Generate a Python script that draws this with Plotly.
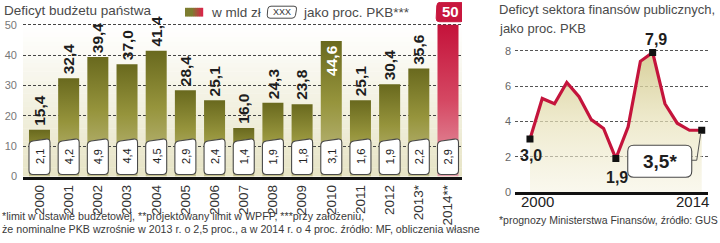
import math
import plotly.graph_objects as go

# ---------------- data ----------------
years = ["2000", "2001", "2002", "2003", "2004", "2005", "2006", "2007",
         "2008", "2009", "2010", "2011", "2012", "2013*", "2014**"]
deficit_bn = [15.4, 32.4, 39.4, 37.0, 41.4, 28.4, 25.1, 16.0,
              24.3, 23.8, 44.6, 25.1, 30.4, 35.6, 50]
deficit_pct_gdp = [2.1, 4.2, 4.9, 4.4, 4.5, 2.9, 2.4, 1.4,
                   1.9, 1.8, 3.1, 1.6, 1.9, 2.2, 2.9]
left_yticks = [0, 10, 20, 30, 40, 50]

sector_years = [2000, 2001, 2002, 2003, 2004, 2005, 2006, 2007,
                2008, 2009, 2010, 2011, 2012, 2013, 2014]
sector_deficit = [3.0, 5.3, 5.0, 6.2, 5.4, 4.1, 3.6, 1.9,
                  3.7, 7.4, 7.9, 5.0, 3.9, 3.5, 3.5]
sector_marked = [2000, 2007, 2010, 2014]
sector_label_text = {2000: "3,0", 2007: "1,9", 2010: "7,9", 2014: "3,5*"}
right_yticks = [0, 2, 4, 6, 8]
right_xlabels = ["2000", "2014"]

# ---------------- helpers ----------------
W, H = 720, 243
SANS = "Liberation Sans, Arial, sans-serif"


def px(x):
    return x / W


def py(y):
    return 1 - y / H


def rounded_path(pts, r):
    n = len(pts)

    def toward(a, b, d):
        dx, dy = b[0] - a[0], b[1] - a[1]
        L = math.hypot(dx, dy)
        t = min(d, L / 2) / L
        return (a[0] + dx * t, a[1] + dy * t)

    segs = []
    for i in range(n):
        p = pts[i]
        a = toward(p, pts[i - 1], r)
        b = toward(p, pts[(i + 1) % n], r)
        segs.append((a, p, b))
    a, p, b = segs[0]
    d = f"M{a[0]:.2f},{a[1]:.2f} Q{p[0]:.2f},{p[1]:.2f} {b[0]:.2f},{b[1]:.2f}"
    for a, p, b in segs[1:]:
        d += f" L{a[0]:.2f},{a[1]:.2f} Q{p[0]:.2f},{p[1]:.2f} {b[0]:.2f},{b[1]:.2f}"
    return d + " Z"


def pix_shape(path, xref, yref, xa, ya, fill, lc, lw):
    return dict(type="path", xref=xref, yref=yref, xsizemode="pixel",
                ysizemode="pixel", xanchor=xa, yanchor=ya, path=path,
                fillcolor=fill, line=dict(color=lc, width=lw), layer="above")


def lerp(c0, c1, t):
    return "rgb(%d,%d,%d)" % tuple(round(c0[k] + (c1[k] - c0[k]) * t) for k in range(3))


def txt(x, y, text, size, color, xanchor="left", weight="normal"):
    return dict(x=px(x), y=py(y), xref="paper", yref="paper", text=text,
                showarrow=False, xanchor=xanchor, yanchor="middle",
                font=dict(family=SANS, size=size, color=color, weight=weight))


OLIVE_SCALE = [[0, "#c4c08c"], [0.55, "#96943c"], [1, "#69691e"]]
RED_SCALE = [[0, "#e6a0ab"], [0.5, "#d54863"], [1, "#c4123a"]]

fig = go.Figure()
shapes = []
ann = []

# ---------------- left chart ----------------
BAR_W = 0.72
n = len(deficit_bn)
for i, v in enumerate(deficit_bn):
    cs = RED_SCALE if i == n - 1 else OLIVE_SCALE
    fig.add_trace(go.Scatter(
        x=[i - BAR_W / 2, i + BAR_W / 2, i + BAR_W / 2, i - BAR_W / 2],
        y=[0, 0, v, v], fill="toself", mode="lines", line=dict(width=0),
        fillgradient=dict(type="vertical", colorscale=cs),
        hoverinfo="skip", showlegend=False, xaxis="x", yaxis="y"))

# plot background gradient (below gridlines)
NB = 40
for k in range(NB):
    t = min(1.0, (k / (NB - 1)) * 1.15)
    shapes.append(dict(type="rect", xref="x domain", yref="y domain",
                       x0=0, x1=1, y0=k / NB, y1=(k + 1) / NB + 0.002,
                       fillcolor=lerp((231, 228, 198), (255, 255, 255), t),
                       line=dict(width=0), layer="below"))

for i, (v, p) in enumerate(zip(deficit_bn, deficit_pct_gdp)):
    # PKB box
    shapes.append(pix_shape(rounded_path([(-10.5, 2), (10.5, 2), (10.5, 38), (-10.5, 35)], 4),
                            "x", "y", i, 0, "white", "#4a4a4a", 1.1))
    ann.append(dict(x=i, y=0, xref="x", yref="y", yshift=20, text=f"{p:.1f}".replace(".", ","),
                    textangle=-90, showarrow=False, xanchor="center", yanchor="middle",
                    font=dict(family=SANS, size=11, color="#222")))
    label = f"{v:.1f}".replace(".", ",")
    if i == n - 1:
        shapes.append(pix_shape(rounded_path([(-12, 3), (16, 3), (17, 22.5), (-11, 22.5)], 3.5),
                                "x", "y", i, v, "#c8173e", "#c8173e", 1))
        ann.append(dict(x=i, y=v, xref="x", yref="y", xshift=2.5, yshift=13, text=f"{v:g}",
                        showarrow=False, xanchor="center", yanchor="middle",
                        font=dict(family=SANS, size=15, color="white", weight="bold")))
    elif v > 43:
        ann.append(dict(x=i, y=v, xref="x", yref="y", yshift=-2, text=label, textangle=-90,
                        showarrow=False, xanchor="center", yanchor="top",
                        font=dict(family=SANS, size=15.5, color="white", weight="bold")))
    else:
        ann.append(dict(x=i, y=v, xref="x", yref="y", yshift=2, text=label, textangle=-90,
                        showarrow=False, xanchor="center", yanchor="bottom",
                        font=dict(family=SANS, size=15.5, color="#1e1e1e", weight="bold")))

# title & legend
ann.append(txt(2, 11, "Deficyt budżetu państwa", 13.5, "#4a4a4a"))
sw0, sw1 = (125, 125, 48), (214, 40, 72)
for k in range(9):
    t = max(0.0, (k - 3) / 5)
    shapes.append(dict(type="rect", xref="paper", yref="paper",
                       x0=px(185 + 2 * k), x1=px(187.2 + 2 * k), y0=py(17), y1=py(8),
                       fillcolor=lerp(sw0, sw1, min(t, 1)), line=dict(width=0), layer="above"))
ann.append(txt(209, 13, "w mld zł", 13.5, "#4a4a4a"))
shapes.append(pix_shape(rounded_path([(-15, -6), (13, -6), (15, 6), (-14, 6)], 3),
                        "paper", "paper", px(282), py(12.5), "white", "#4a4a4a", 1))
ann.append(txt(282, 12.5, "XXX", 9, "#333", xanchor="center"))
ann.append(txt(301, 13, "jako proc. PKB***", 13.5, "#4a4a4a"))

# left footnote
ann.append(txt(0, 221.5, "*limit w ustawie budżetowej, **projektowany limit w WPFP, ***przy założeniu,",
               10.7, "#3a3a3a"))
ann.append(txt(0, 235, "że nominalne PKB wzrośnie w 2013 r. o 2,5 proc., a w 2014 r. o 4 proc. "
                       "źródło: MF, obliczenia własne", 10.7, "#3a3a3a"))

# ---------------- right chart ----------------
fig.add_trace(go.Scatter(
    x=sector_years, y=sector_deficit, mode="lines", fill="tozeroy",
    line=dict(width=0), fillgradient=dict(type="vertical", start=0, stop=8,
                                          colorscale=[[0, "rgba(246,243,226,0.55)"],
                                                      [0.5, "rgba(232,226,186,0.7)"],
                                                      [1, "rgba(208,198,135,0.85)"]]),
    hoverinfo="skip", showlegend=False, xaxis="x2", yaxis="y2"))
fig.add_trace(go.Scatter(
    x=sector_years, y=sector_deficit, mode="lines",
    line=dict(color="#c4143c", width=3.2), hoverinfo="skip", showlegend=False,
    xaxis="x2", yaxis="y2"))
mk_y = [sector_deficit[sector_years.index(yr)] for yr in sector_marked]
fig.add_trace(go.Scatter(
    x=sector_marked, y=mk_y, mode="markers",
    marker=dict(symbol="square", size=7, color="#111"), hoverinfo="skip",
    showlegend=False, xaxis="x2", yaxis="y2"))

offsets = {2000: (1, -16), 2007: (1, -19), 2010: (3, 13)}
for yr, (dx, dy) in offsets.items():
    ann.append(dict(x=yr, y=sector_deficit[sector_years.index(yr)], xref="x2", yref="y2",
                    xshift=dx, yshift=dy, text=sector_label_text[yr], showarrow=False,
                    xanchor="center", yanchor="middle",
                    font=dict(family=SANS, size=16, color="#1e1e1e", weight="bold")))
last = sector_years[-1]
lv = sector_deficit[-1]
shapes.append(pix_shape(rounded_path([(-74, -47), (-10, -47), (-10, -15), (-74, -15)], 6),
                        "x2", "y2", last, lv, "white", "#4a4a4a", 1.1))
shapes.append(dict(type="path", xref="x2", yref="y2", xsizemode="pixel", ysizemode="pixel",
                   xanchor=last, yanchor=lv, path="M-10,-30 L-5,-30 L-1,-3",
                   line=dict(color="#555", width=1), layer="above"))
ann.append(dict(x=last, y=lv, xref="x2", yref="y2", xshift=-42, yshift=-31,
                text=sector_label_text[last], showarrow=False, xanchor="center", yanchor="middle",
                font=dict(family=SANS, size=19, color="#1e1e1e", weight="bold")))

ann.append(txt(497, 10, "Deficyt sektora finansów publicznych,", 13, "#4a4a4a"))
ann.append(txt(497, 29, "jako proc. PKB", 13, "#4a4a4a"))
ann.append(txt(497, 226, "*prognozy Ministerstwa Finansów, źródło: GUS", 10.5, "#3a3a3a"))
ann.append(txt(519, 207, right_xlabels[0], 15, "#222"))
ann.append(txt(711, 207, right_xlabels[1], 15, "#222", xanchor="right"))

fig.update_layout(
    width=W, height=H, margin=dict(l=0, r=0, t=0, b=0),
    paper_bgcolor="white", plot_bgcolor="rgba(0,0,0,0)",
    showlegend=False, shapes=shapes, annotations=ann,
    xaxis=dict(domain=[px(23), px(462)], range=[-0.565, 14.48],
               tickmode="array", tickvals=list(range(n)), ticktext=years,
               tickangle=-90, tickfont=dict(family=SANS, size=13.5, color="#333"),
               showgrid=False, zeroline=False, showline=True, linecolor="#111",
               linewidth=3, ticks="", fixedrange=True, anchor="y"),
    yaxis=dict(domain=[py(181), py(2)], range=[0, 57.5], tickmode="array",
               tickvals=left_yticks, showgrid=True, gridcolor="#444",
               griddash="3px,2px", gridwidth=1, zeroline=False, ticks="",
               tickfont=dict(family=SANS, size=11, color="#777"),
               ticklabelstandoff=5, fixedrange=True, anchor="x"),
    xaxis2=dict(domain=[px(515), px(708)], range=[1998.78, 2014.51],
                showticklabels=False, showgrid=False, zeroline=False, showline=True,
                linecolor="#111", linewidth=3, ticks="", fixedrange=True, anchor="y2"),
    yaxis2=dict(domain=[py(197), py(44.75)], range=[0, 8.4], tickmode="array",
                tickvals=right_yticks, showgrid=True, gridcolor="#555",
                griddash="3px,2px", gridwidth=1, zeroline=False, ticks="",
                tickfont=dict(family=SANS, size=11, color="#666"),
                ticklabelstandoff=3, fixedrange=True, anchor="x2"),
)

fig.write_html("out.html")
